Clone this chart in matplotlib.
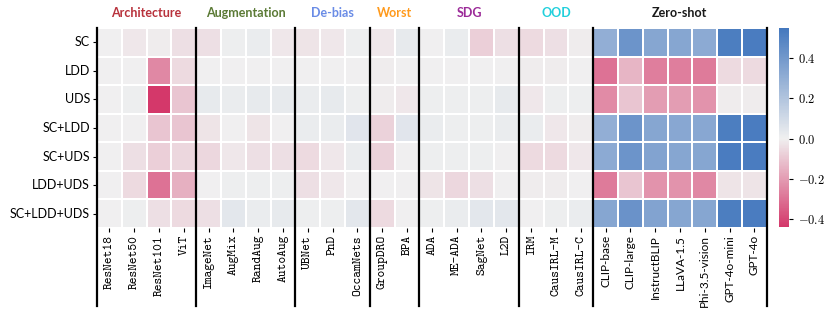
import matplotlib
matplotlib.use('Agg')
import matplotlib.pyplot as plt
import numpy as np
import seaborn as sns
from matplotlib.colors import LinearSegmentedColormap

plt.rcParams['mathtext.fontset'] = 'cm'

rows = ['SC', 'LDD', 'UDS', 'SC+LDD', 'SC+UDS', 'LDD+UDS', 'SC+LDD+UDS']

groups = ['Architecture', 'Augmentation', 'De-bias', 'Worst', 'SDG', 'OOD', 'Zero-shot']
group_colors = ['#b8323c', '#5b7a35', '#6a8ce6', '#ff9a1c', '#9b2a98', '#22d0dc', '#1a1a1a']
group_models = [
    ['ResNet18', 'ResNet50', 'ResNet101', 'ViT'],
    ['ImageNet', 'AugMix', 'RandAug', 'AutoAug'],
    ['UBNet', 'PnD', 'OccamNets'],
    ['GroupDRO', 'BPA'],
    ['ADA', 'ME-ADA', 'SagNet', 'L2D'],
    ['IRM', 'CausIRL-M', 'CausIRL-C'],
    ['CLIP-base', 'CLIP-large', 'InstructBLIP', 'LLaVA-1.5', 'Phi-3.5-vision', 'GPT-4o-mini', 'GPT-4o'],
]

# one list per row, columns in the order of group_models
sc         = [0.00, -0.02, -0.01, -0.04, -0.04, 0.01, 0.02, -0.02, -0.03, -0.02, 0.01, -0.02, 0.03,
              0.00, 0.02, -0.08, -0.04, -0.05, -0.04, -0.01, 0.30, 0.42, 0.34, 0.34, 0.32, 0.52, 0.53]
ldd        = [0.00, 0.00, -0.25, -0.05, 0.00, 0.00, 0.00, 0.00, 0.00, 0.00, 0.00, -0.01, 0.00,
              0.00, 0.00, 0.00, 0.00, -0.01, -0.01, 0.00, -0.30, -0.14, -0.27, -0.27, -0.28, -0.05, -0.05]
uds        = [0.00, 0.01, -0.44, -0.10, 0.03, 0.02, 0.03, 0.03, 0.02, 0.03, 0.01, -0.01, -0.02,
              0.01, 0.01, 0.01, 0.03, -0.02, 0.01, 0.01, -0.24, -0.10, -0.20, -0.20, -0.22, -0.01, -0.01]
sc_ldd     = [0.00, 0.00, -0.10, -0.10, -0.03, 0.00, -0.03, 0.00, 0.02, 0.02, 0.05, -0.07, 0.05,
              0.02, 0.01, 0.01, 0.02, 0.02, -0.02, -0.01, 0.30, 0.42, 0.34, 0.33, 0.33, 0.52, 0.53]
sc_uds     = [0.00, -0.04, -0.08, -0.06, -0.06, -0.02, -0.04, -0.04, -0.05, -0.02, 0.02, -0.07, 0.00,
              0.01, 0.01, 0.01, 0.00, -0.05, -0.05, -0.02, 0.32, 0.42, 0.35, 0.34, 0.34, 0.53, 0.53]
ldd_uds    = [0.00, -0.05, -0.30, -0.15, 0.00, 0.01, 0.01, 0.01, -0.04, -0.02, 0.00, 0.00, 0.00,
              -0.03, -0.06, -0.04, 0.00, -0.01, -0.01, 0.00, -0.28, -0.10, -0.22, -0.22, -0.25, -0.03, -0.03]
sc_ldd_uds = [0.00, 0.01, -0.04, -0.05, -0.04, 0.04, 0.02, 0.03, 0.01, 0.01, 0.04, -0.05, 0.00,
              0.01, 0.02, 0.04, 0.04, 0.00, 0.01, 0.02, 0.34, 0.43, 0.35, 0.34, 0.34, 0.52, 0.53]

cbar_ticks = [-0.4, -0.2, 0.0, 0.2, 0.4]

data = np.array([sc, ldd, uds, sc_ldd, sc_uds, ldd_uds, sc_ldd_uds])
models = [m for g in group_models for m in g]
vmin, vmax = -0.44, 0.55

cmap = LinearSegmentedColormap.from_list(
    'rb', [(0, '#d4386a'), ((0 - vmin) / (vmax - vmin), '#f0f0f0'), (1, '#4478be')])

fig = plt.figure(figsize=(8.31, 3.14), dpi=100)
ax = fig.add_axes([0.1167, 0.274, 0.806, 0.637])
cax = fig.add_axes([0.9374, 0.277, 0.0125, 0.634])

sns.heatmap(data, ax=ax, cbar_ax=cax, cmap=cmap, vmin=vmin, vmax=vmax,
            linewidths=1.2, linecolor='white')

ax.set_yticks(np.arange(len(rows)) + 0.5)
ax.set_yticklabels(rows, rotation=0, fontsize=9, family='Lato')
ax.set_xticks(np.arange(len(models)) + 0.5)
ax.set_xticklabels(models, rotation=90)
n_zero = len(group_models[-1])
for i, lab in enumerate(ax.get_xticklabels()):
    if i >= len(models) - n_zero:
        lab.set_fontfamily('Lato')
        lab.set_fontsize(8.5)
    else:
        lab.set_fontfamily('cmtt10')
        lab.set_fontsize(9.3)
ax.tick_params(axis='both', length=3, width=0.8, pad=2)

# group separators and titles
bounds = np.cumsum([0] + [len(g) for g in group_models])
for b in bounds:
    ax.axvline(b, ymin=-0.39, ymax=1.0, color='black', lw=1.6, clip_on=False)
for g, c, a, b in zip(groups, group_colors, bounds[:-1], bounds[1:]):
    ax.text((a + b) / 2, 1.075, g, transform=ax.get_xaxis_transform(),
            ha='center', va='center', color=c, fontsize=9, fontweight='bold', family='Lato')

cbar = ax.collections[0].colorbar
cbar.set_ticks(cbar_ticks)
cbar.set_ticklabels(['$%.1f$' % t for t in cbar_ticks])
cbar.ax.tick_params(labelsize=9, length=3, width=0.8)
cbar.outline.set_linewidth(0)

fig.savefig('out.png', dpi=100)
